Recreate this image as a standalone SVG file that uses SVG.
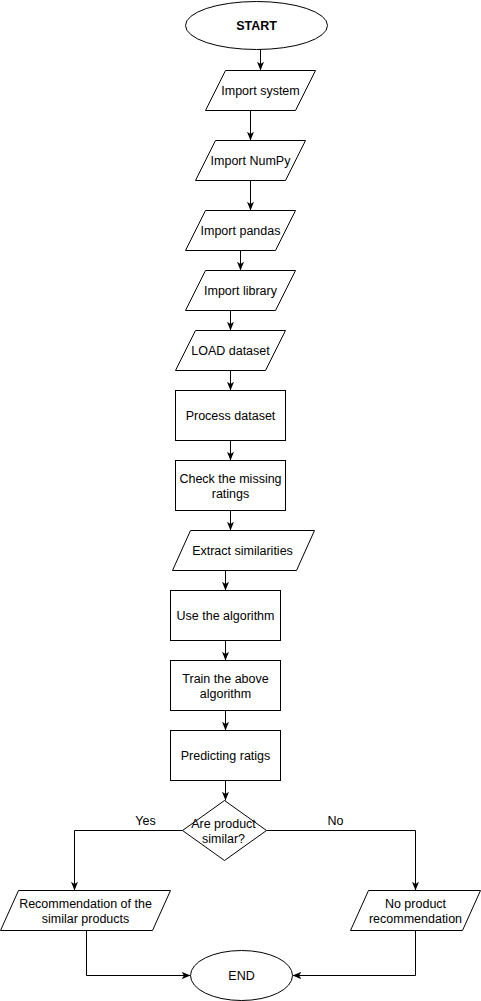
<svg xmlns="http://www.w3.org/2000/svg" width="481" height="1001" viewBox="0 0 481 1001">
<style>
.s{fill:#fff;stroke:#000;stroke-width:1}
.t{font-family:"Liberation Sans",Arial,sans-serif;font-size:12.5px;fill:#000;text-anchor:middle}
.b{font-weight:bold}
.e{fill:none;stroke:#000;stroke-width:1}
</style>
<defs>
<marker id="arr" viewBox="0 0 10 8" markerWidth="9" markerHeight="7" refX="10" refY="4" orient="auto" markerUnits="userSpaceOnUse">
<path d="M0,0 L10,4 L0,8 L2.5,4 z" fill="#000"/>
</marker>
</defs>
<rect width="481" height="1001" fill="#fff"/>
<g transform="translate(0.5,0.5)">
<g id="connectors">
<path class="e" d="M260,49 V70" marker-end="url(#arr)"/>
<path class="e" d="M250,110 V140" marker-end="url(#arr)"/>
<path class="e" d="M250,180 V210" marker-end="url(#arr)"/>
<path class="e" d="M240,250 V270" marker-end="url(#arr)"/>
<path class="e" d="M230,310 V330" marker-end="url(#arr)"/>
<path class="e" d="M230,370 V390" marker-end="url(#arr)"/>
<path class="e" d="M230,440 V460" marker-end="url(#arr)"/>
<path class="e" d="M230,510 V530" marker-end="url(#arr)"/>
<path class="e" d="M225,570 V590" marker-end="url(#arr)"/>
<path class="e" d="M225,640 V660" marker-end="url(#arr)"/>
<path class="e" d="M225,710 V730" marker-end="url(#arr)"/>
<path class="e" d="M225,780 V800" marker-end="url(#arr)"/>
<path class="e" d="M182,830 H74 V890" marker-end="url(#arr)"/>
<path class="e" d="M266,830 H415 V890" marker-end="url(#arr)"/>
<path class="e" d="M86,930 V975 H190" marker-end="url(#arr)"/>
<path class="e" d="M415,930 V975 H292" marker-end="url(#arr)"/>
<text class="t" x="145" y="824">Yes</text>
<text class="t" x="335" y="824">No</text>
</g>
<g id="start">
<ellipse class="s" cx="256" cy="25" rx="71" ry="24"/>
<text class="t b" x="256" y="29">START</text>
</g>
<g id="import-system">
<polygon class="s" points="225,70 315,70 295,110 205,110"/>
<text class="t" x="260" y="94">Import system</text>
</g>
<g id="import-numpy">
<polygon class="s" points="215,140 305,140 285,180 195,180"/>
<text class="t" x="250" y="164">Import NumPy</text>
</g>
<g id="import-pandas">
<polygon class="s" points="205,210 295,210 275,250 185,250"/>
<text class="t" x="240" y="234">Import pandas</text>
</g>
<g id="import-library">
<polygon class="s" points="205,270 295,270 275,310 185,310"/>
<text class="t" x="240" y="294">Import library</text>
</g>
<g id="load-dataset">
<polygon class="s" points="195,330 285,330 265,370 175,370"/>
<text class="t" x="230" y="354">LOAD dataset</text>
</g>
<g id="process-dataset">
<rect class="s" x="175" y="390" width="110" height="50"/>
<text class="t" x="230" y="419">Process dataset</text>
</g>
<g id="check-missing">
<rect class="s" x="175" y="460" width="110" height="50"/>
<text class="t" x="230" y="482">Check the missing</text>
<text class="t" x="230" y="497">ratings</text>
</g>
<g id="extract-similarities">
<polygon class="s" points="190,530 314,530 296,570 172,570"/>
<text class="t" x="242" y="554">Extract similarities</text>
</g>
<g id="use-algorithm">
<rect class="s" x="170" y="590" width="110" height="50"/>
<text class="t" x="225" y="619">Use the algorithm</text>
</g>
<g id="train-algorithm">
<rect class="s" x="170" y="660" width="110" height="50"/>
<text class="t" x="225" y="682">Train the above</text>
<text class="t" x="225" y="697">algorithm</text>
</g>
<g id="predicting">
<rect class="s" x="170" y="730" width="110" height="50"/>
<text class="t" x="225" y="759">Predicting ratigs</text>
</g>
<g id="decision">
<polygon class="s" points="224,800 266,830 224,860 182,830"/>
<text class="t" x="223" y="827">Are product</text>
<text class="t" x="223" y="842">similar?</text>
</g>
<g id="recommend">
<polygon class="s" points="18,890 170,890 152,930 0,930"/>
<text class="t" x="85" y="907">Recommendation of the</text>
<text class="t" x="85" y="922">similar products</text>
</g>
<g id="no-recommend">
<polygon class="s" points="368,890 480,890 462,930 350,930"/>
<text class="t" x="415" y="907">No product</text>
<text class="t" x="415" y="922">recommendation</text>
</g>
<g id="end">
<ellipse class="s" cx="241" cy="975" rx="51" ry="25"/>
<text class="t" x="241" y="979">END</text>
</g>
</g>
</svg>
